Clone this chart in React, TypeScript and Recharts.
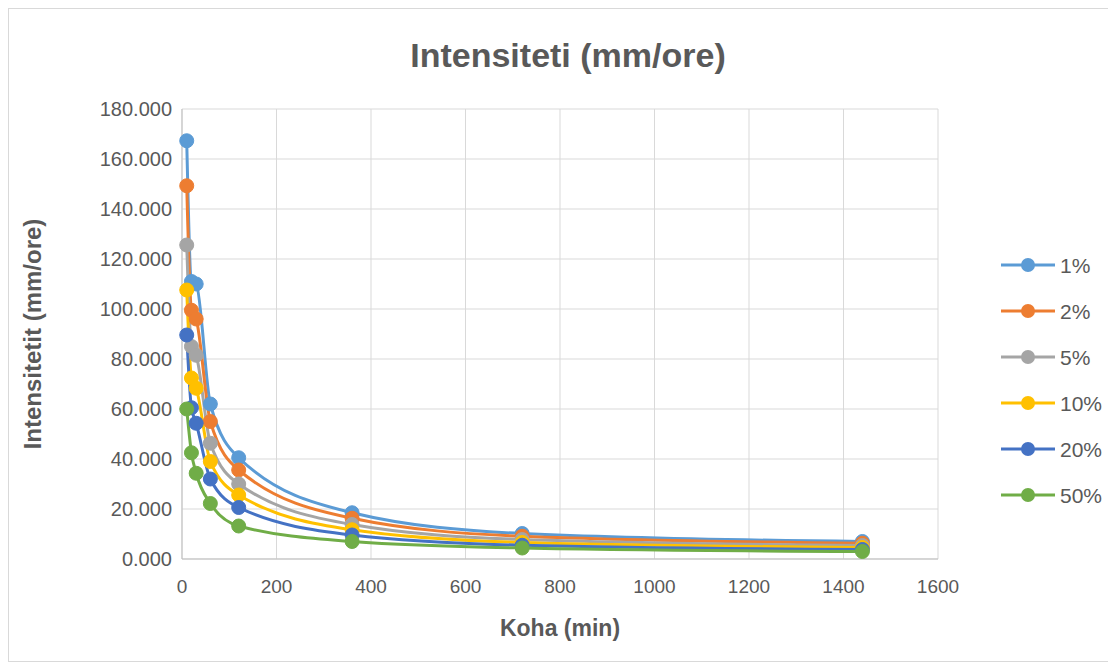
import React from 'react';
import { LineChart, Line, XAxis, YAxis, CartesianGrid } from 'recharts';

const times = [10, 20, 30, 60, 120, 360, 720, 1440];
const s1 = [167.3, 111, 110, 62, 40.5, 18.5, 10.2, 7.0];
const s2 = [149.3, 99.5, 96, 55, 35.6, 16.3, 9.1, 6.3];
const s5 = [125.6, 85, 81.5, 46.3, 30, 13.8, 7.8, 5.4];
const s10 = [107.6, 72.4, 68.3, 39, 25.6, 11.7, 6.6, 4.6];
const s20 = [89.6, 60.5, 54.3, 32, 20.6, 9.6, 5.5, 3.8];
const s50 = [60, 42.5, 34.3, 22.2, 13.2, 7.0, 4.4, 3.0];

const seriesNames = ['1%', '2%', '5%', '10%', '20%', '50%'];
const seriesValues = [s1, s2, s5, s10, s20, s50];
const colors = ['#5B9BD5', '#ED7D31', '#A5A5A5', '#FFC000', '#4472C4', '#70AD47'];

const xTicks = [0, 200, 400, 600, 800, 1000, 1200, 1400, 1600];
const yTicks = [0, 20, 40, 60, 80, 100, 120, 140, 160, 180];

const data = times.map((t, i) => {
  const row: Record<string, number> = { t };
  seriesNames.forEach((n, k) => {
    row[n] = seriesValues[k][i];
  });
  return row;
});

const W = 1100;
const H = 652;
const FONT = '"Liberation Sans", Arial, sans-serif';
const TXT = '#595959';

export default function App() {
  return (
    <div
      style={{
        position: 'relative',
        width: W,
        height: H,
        border: '1px solid #d9d9d9',
        background: '#fff',
        fontFamily: FONT,
      }}
    >
      <LineChart
        width={W}
        height={H}
        data={data}
        margin={{ top: 100, right: 171, bottom: 72, left: 73 }}
      >
        <CartesianGrid stroke="#d9d9d9" strokeWidth={1} />
        <XAxis
          dataKey="t"
          type="number"
          domain={[0, 1600]}
          ticks={xTicks}
          height={30}
          tickSize={0}
          tickMargin={21}
          axisLine={{ stroke: '#bfbfbf', strokeWidth: 1 }}
          tickLine={false}
          tick={{ fill: TXT, fontSize: 19, fontFamily: FONT }}
        />
        <YAxis
          type="number"
          domain={[0, 180]}
          ticks={yTicks}
          width={100}
          tickSize={0}
          tickMargin={10}
          axisLine={{ stroke: '#bfbfbf', strokeWidth: 1 }}
          tickLine={false}
          tickFormatter={(v: number) => v.toFixed(3)}
          tick={{ fill: TXT, fontSize: 20, fontFamily: FONT }}
        />
        {seriesNames.map((n, k) => (
          <Line
            key={n}
            dataKey={n}
            type="monotone"
            stroke={colors[k]}
            strokeWidth={3}
            dot={{ r: 7, fill: colors[k], stroke: colors[k], strokeWidth: 1 }}
            isAnimationActive={false}
          />
        ))}
      </LineChart>
      <div
        style={{
          position: 'absolute',
          left: 0,
          width: W,
          top: 27,
          textAlign: 'center',
          fontSize: 34,
          fontWeight: 'bold',
          color: TXT,
        }}
      >
        <span style={{ position: 'relative', left: 9 }}>Intensiteti (mm/ore)</span>
      </div>
      <div
        style={{
          position: 'absolute',
          left: 0,
          width: W,
          top: 606,
          textAlign: 'center',
          fontSize: 23,
          fontWeight: 'bold',
          color: TXT,
        }}
      >
        <span style={{ position: 'relative', left: 1 }}>Koha (min)</span>
      </div>
      <div
        style={{
          position: 'absolute',
          left: 24,
          top: 325,
          width: 0,
          height: 0,
        }}
      >
        <div
          style={{
            position: 'absolute',
            transform: 'translate(-50%, -50%) rotate(-90deg)',
            whiteSpace: 'nowrap',
            fontSize: 24,
            fontWeight: 'bold',
            color: TXT,
          }}
        >
          Intensitetit (mm/ore)
        </div>
      </div>
      <svg
        style={{ position: 'absolute', left: 985, top: 235 }}
        width={120}
        height={290}
      >
        {seriesNames.map((n, k) => {
          const y = 21 + k * 46;
          return (
            <g key={n}>
              <line x1={7} x2={61} y1={y} y2={y} stroke={colors[k]} strokeWidth={3} />
              <circle cx={34} cy={y} r={7} fill={colors[k]} />
              <text
                x={66}
                y={y}
                dominantBaseline="central"
                fontSize={21}
                fill={TXT}
                fontFamily={FONT}
              >
                {n}
              </text>
            </g>
          );
        })}
      </svg>
    </div>
  );
}
